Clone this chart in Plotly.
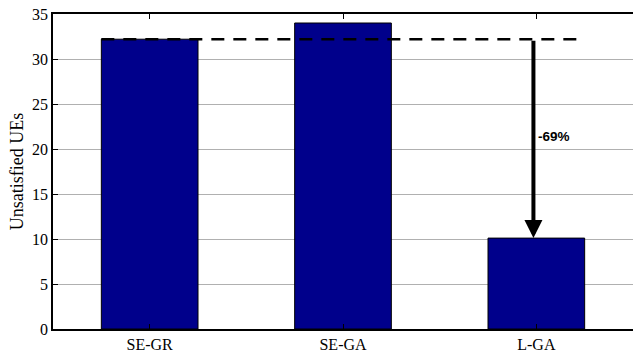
import plotly.graph_objects as go

# Unsatisfied UEs per scheme
schemes = ["SE-GR", "SE-GA", "L-GA"]
unsatisfied = [32.2, 34.0, 10.1]
y_ticks = [0, 5, 10, 15, 20, 25, 30, 35]
reduction_label = "-69%"

x_pos = [1, 2, 3]
bar_color = "#00008B"
serif = "Liberation Serif, Times New Roman, serif"

fig = go.Figure()
fig.add_trace(go.Bar(
    x=x_pos, y=unsatisfied, width=0.5,
    marker=dict(color=bar_color, line=dict(color="black", width=1)),
    showlegend=False,
))

# Baseline reference line at the SE-GR level
fig.add_trace(go.Scatter(
    x=[x_pos[0] - 0.25, x_pos[2] + 0.245], y=[unsatisfied[0], unsatisfied[0]],
    mode="lines", line=dict(color="black", width=2.5, dash="13px,9px"),
    showlegend=False, hoverinfo="skip",
))

# Arrow showing the drop from SE-GR to L-GA
arrow_x = x_pos[2] - 0.015
fig.add_annotation(
    x=arrow_x, y=unsatisfied[2], ax=arrow_x, ay=unsatisfied[0],
    xref="x", yref="y", axref="x", ayref="y",
    showarrow=True, arrowhead=2, arrowsize=0.9, arrowwidth=4, arrowcolor="black",
    text="",
)
fig.add_annotation(
    x=arrow_x + 0.015, y=(unsatisfied[0] + unsatisfied[2]) / 2 + 0.2,
    xref="x", yref="y", text=f"<b>{reduction_label}</b>", showarrow=False,
    xanchor="left", yanchor="middle",
    font=dict(family="Liberation Sans, Arial, sans-serif", size=13.5, color="black"),
)

fig.update_layout(
    width=633, height=353,
    margin=dict(l=53, r=0, t=14, b=24),
    paper_bgcolor="white", plot_bgcolor="white",
    bargap=0.5,
    xaxis=dict(
        range=[0.5, 3.5], tickvals=x_pos, ticktext=schemes,
        showgrid=False, zeroline=False,
        showline=True, linecolor="black", linewidth=1.5, mirror="ticks",
        ticks="inside", ticklen=5, tickcolor="black",
        tickfont=dict(family=serif, size=16, color="black"),
    ),
    yaxis=dict(
        range=[0, 35], tickvals=y_ticks,
        showgrid=True, gridcolor="#B0B0B0", gridwidth=1, zeroline=False,
        showline=True, linecolor="black", linewidth=1.5, mirror=False,
        ticks="inside", ticklen=5, tickcolor="black",
        tickfont=dict(family=serif, size=16, color="black"),
        title=dict(text="Unsatisfied UEs", font=dict(family=serif, size=18, color="black"), standoff=4),
    ),
)

fig.write_html("out.html")
